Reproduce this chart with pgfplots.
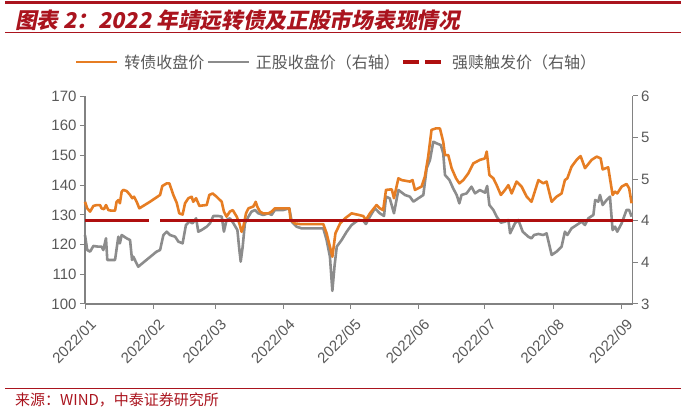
\documentclass[border=0pt]{standalone}
\usepackage{pgfplots}
\pgfplotsset{compat=1.18}
\usepackage{fontspec}
\setmainfont{Liberation Sans}
\newfontfamily\cjk{Noto Sans CJK SC}
\newfontfamily\cjktitle[FakeSlant=0.2]{Noto Sans CJK SC}
\definecolor{bondorange}{RGB}{230,125,35}
\definecolor{stockgray}{RGB}{140,140,140}
\definecolor{trigred}{RGB}{175,15,15}
\definecolor{titlered}{RGB}{170,20,30}
\definecolor{axisgray}{RGB}{130,130,130}
\definecolor{labelgray}{RGB}{89,89,89}
\pgfplotsset{
  common/.style={
    at={(85bp,104bp)}, anchor=south west, scale only axis,
    width=547.7bp, height=208bp, xmin=0, xmax=248,
    tick align=outside, major tick length=5bp,
    tick style={axisgray, line width=1bp},
    axis line style={axisgray, line width=1.2bp},
    ticklabel style={font=\fontsize{15bp}{18bp}\selectfont, text=labelgray},
    /pgf/number format/assume math mode=true,
    clip=false,
  }
}
\begin{document}
\begin{tikzpicture}
\useasboundingbox (0,0) rectangle (688bp,408bp);
% right-axis stock price
\begin{axis}[common, axis y line*=right, axis x line=none,
  ymin=3, ymax=6, ytick={3,3.6,4.2,4.8,5.4,6}, yticklabels={3,4,4,5,5,6}]
\addplot[stockgray, line width=2.6bp, line join=round] coordinates {
(0,3.995)(1,3.779)(2.3,3.755)(3.8,3.837)(6,3.827)(7.5,3.827)(8.3,3.779)(9.5,3.947)
(10.1,3.635)(11.6,3.635)(13.6,3.635)(15.1,3.971)(15.8,3.875)(16.6,3.995)(18.9,3.947)
(20.4,3.923)(21.3,3.635)(21.9,3.683)(22.6,3.635)(24.1,3.538)(32.4,3.755)(34,3.779)
(35.5,3.995)(37,4.043)(38.5,3.995)(40.8,3.971)(42.3,3.899)(44.2,3.875)(45.7,4.139)
(47.2,4.188)(48.7,4.164)(50.3,4.236)(51.3,4.043)(52.8,4.067)(55.1,4.115)(56.6,4.164)
(58.1,4.269)(60.4,4.269)(61.9,4.260)(62.9,4.043)(64.1,4.212)(65.6,4.236)(67.2,4.164)
(69,4.067)(69.9,3.779)(70.5,3.611)(71.4,3.827)(72.4,4.164)(74,4.260)(75.4,4.332)
(77,4.356)(78.5,4.308)(80.7,4.284)(83,4.308)(84.5,4.284)(86,4.356)(89.8,4.356)
(92.5,4.380)(93.6,4.188)(95.8,4.115)(98.1,4.091)(107.9,4.091)(109.4,3.923)(110.9,3.683)
(112,3.19)(113,3.55)(114,3.827)(116.2,3.923)(118.5,4.043)(120.7,4.139)(123.8,4.212)
(126,4.2)(127.2,4.154)(129,4.26)(131.3,4.38)(133.5,4.308)(135.4,4.27)(136.3,4.548)
(138,4.524)(139.9,4.308)(141.9,4.644)(144.9,4.572)(147.1,4.548)(148.7,4.476)(150.9,4.524)
(153.2,4.572)(154.7,4.957)(156.2,5.077)(157.7,5.341)(159.2,5.317)(161.1,5.293)(162.2,5.173)
(163,4.861)(165,4.789)(166.7,4.668)(168.3,4.572)(169.5,4.452)(170.5,4.572)(172.8,4.596)
(175,4.692)(176.6,4.596)(178.8,4.644)(181.1,4.606)(182.1,4.702)(183.1,4.428)(184.9,4.356)
(186.4,4.260)(188.3,4.173)(190.2,4.188)(191.7,4.212)(192.5,4.019)(194.7,4.164)(196.2,4.212)
(198.2,4.043)(200.7,3.971)(202.2,3.947)(203.3,3.995)(205.3,4.010)(207.5,3.995)(209,4.019)
(211.3,3.707)(213.5,3.755)(215.8,3.827)(217.3,4.043)(218.4,3.995)(220.3,4.091)(222.6,4.139)
(224.9,4.188)(226.4,4.139)(227.9,4.236)(230.2,4.284)(231,4.500)(232.4,4.476)(233.2,4.572)
(234.4,4.428)(236.2,4.500)(237.7,4.548)(238.9,4.067)(240,4.115)(241,4.043)(243,4.164)
(245.2,4.356)(246.4,4.356)(247.5,4.260)
};
\end{axis}
% left-axis bond price
\begin{axis}[common, axis x line*=bottom, axis y line*=left,
  ymin=100, ymax=170, ytick={100,110,...,170},
  xtick={0,31,59,90,120,151,181,212,243},
  xticklabels={2022/01,2022/02,2022/03,2022/04,2022/05,2022/06,2022/07,2022/08,2022/09},
  xticklabel style={rotate=45, anchor=north east, yshift=-6bp},
  legend columns=3,
  legend style={at={(axis description cs:0.459,1.163)}, anchor=center, draw=none, fill=none,
    font=\cjk\fontsize{16bp}{19bp}\selectfont, text=labelgray,
    /tikz/every odd column/.append style={column sep=4bp}},
  legend image code/.code={\draw[#1] (0bp,0bp) -- (41bp,0bp);}]
\addplot[bondorange, line width=2.6bp, line join=round] coordinates {
(0,134.4)(1,132.2)(2.3,131.1)(3.8,133)(5.3,133.3)(6.8,133.3)(7.5,132.2)(8.6,131.9)
(9.5,133.3)(10.6,131.6)(12.1,131.4)(13.6,131.4)(14.3,134.4)(15.2,135)(15.8,133.9)
(16.6,137.8)(17.4,138.4)(18.9,138)(20.4,136.7)(21.4,135.6)(22.2,136.1)(23.4,134.4)
(24.6,132.2)(29.4,134.4)(34,136.7)(35,139.7)(37,140.6)(38.2,140.6)(40,136.7)(41.5,134.1)
(42.7,130.5)(44.2,130.1)(45.3,133.9)(46.8,135.6)(48.3,136.1)(49,134.4)(50.3,135.6)
(51.8,133)(53.6,133.2)(55.1,133.3)(56.3,136.7)(57.8,137.2)(59.6,136.1)(61.9,134.4)
(62.9,131.1)(64.1,129.4)(65.6,131.1)(66.9,131.6)(68.7,129.4)(69.9,127.1)(70.9,124.3)
(71.7,126)(72.9,130.5)(74,132.2)(76.2,132.8)(77.3,134.4)(78,132.8)(79.2,131.1)(80.7,130.5)
(83,130.5)(84.5,131.1)(86,132.2)(89.8,132.2)(92.5,132.2)(93.1,128.3)(95.1,127.1)(97.3,126.9)
(107.9,126.9)(109.4,123.8)(110.9,119.3)(112,115.9)(113.4,123.8)(115.5,127.1)(117.7,128.8)
(120.7,130.5)(123.8,130)(126,129.6)(127.2,128.3)(129,130.5)(132,133.3)(133.5,132.2)
(135,131.6)(136.3,138.4)(138.9,138.6)(139.9,135.6)(141.9,142.3)(143.4,141.7)(147.1,141.2)
(148.3,141.7)(149.4,138.4)(152.4,139.5)(153.9,142.9)(155.4,149.6)(156.9,158.6)(158.9,159.1)
(160.7,159.1)(162.2,154.6)(163,150.1)(164.5,150.1)(166,145.7)(168,142.3)(169.5,140.6)
(171.3,141.7)(173.6,144)(175.8,147.3)(178.8,148.5)(181.1,149)(181.9,151.3)(183.1,143.4)
(184.9,142.3)(186.4,140)(188.3,136.7)(190.2,138.4)(191.7,140)(193.2,137.2)(195.4,141.2)
(197.7,139.5)(200,136.1)(202.2,134.4)(205.3,141.7)(207.5,140.6)(209,141.2)(211.3,134.4)
(213.5,136.1)(215.8,137.2)(217.3,141.7)(218.4,142.3)(220.3,146.2)(222.6,148.5)(224.4,149.8)
(226.4,145.7)(229.4,148.5)(231.7,149.6)(233.5,149)(234.4,145.3)(236.9,146)(238.9,136.7)
(240,137.8)(241,137.2)(243,139.5)(245.2,140.4)(246.4,138.9)(247.5,133.9)
};
\addlegendentry{转债收盘价}
\addlegendimage{stockgray, line width=2.6bp}
\addlegendentry{正股收盘价（右轴）}
\addlegendimage{trigred, line width=3.2bp, dash pattern=on 16bp off 6bp}
\addlegendentry{强赎触发价（右轴）}
\end{axis}
% right-axis trigger price, drawn on top
\begin{axis}[common, hide axis, ymin=3, ymax=6, unbounded coords=jump]
\addplot[trigred, line width=3.2bp] coordinates {(0,4.2)(29,4.2)(31,nan)(34,4.2)(248,4.2)};
\end{axis}
% frame decoration
\draw[titlered, line width=3bp] (5bp,405bp) -- (681bp,405bp);
\node[anchor=west, inner sep=0pt, text=titlered] at (15bp,388bp)
  {\cjktitle\bfseries\fontsize{21.7bp}{24bp}\selectfont 图表 2：2022 年靖远转债及正股市场表现情况};
\draw[titlered, line width=1bp] (5bp,375bp) -- (681bp,375bp);
\draw[titlered, line width=0.8bp] (5bp,20bp) -- (681bp,20bp);
\node[anchor=west, inner sep=0pt, text=titlered] at (15bp,8bp)
  {\cjk\fontsize{15bp}{17bp}\selectfont 来源：WIND，中泰证券研究所};
\end{tikzpicture}
\end{document}
